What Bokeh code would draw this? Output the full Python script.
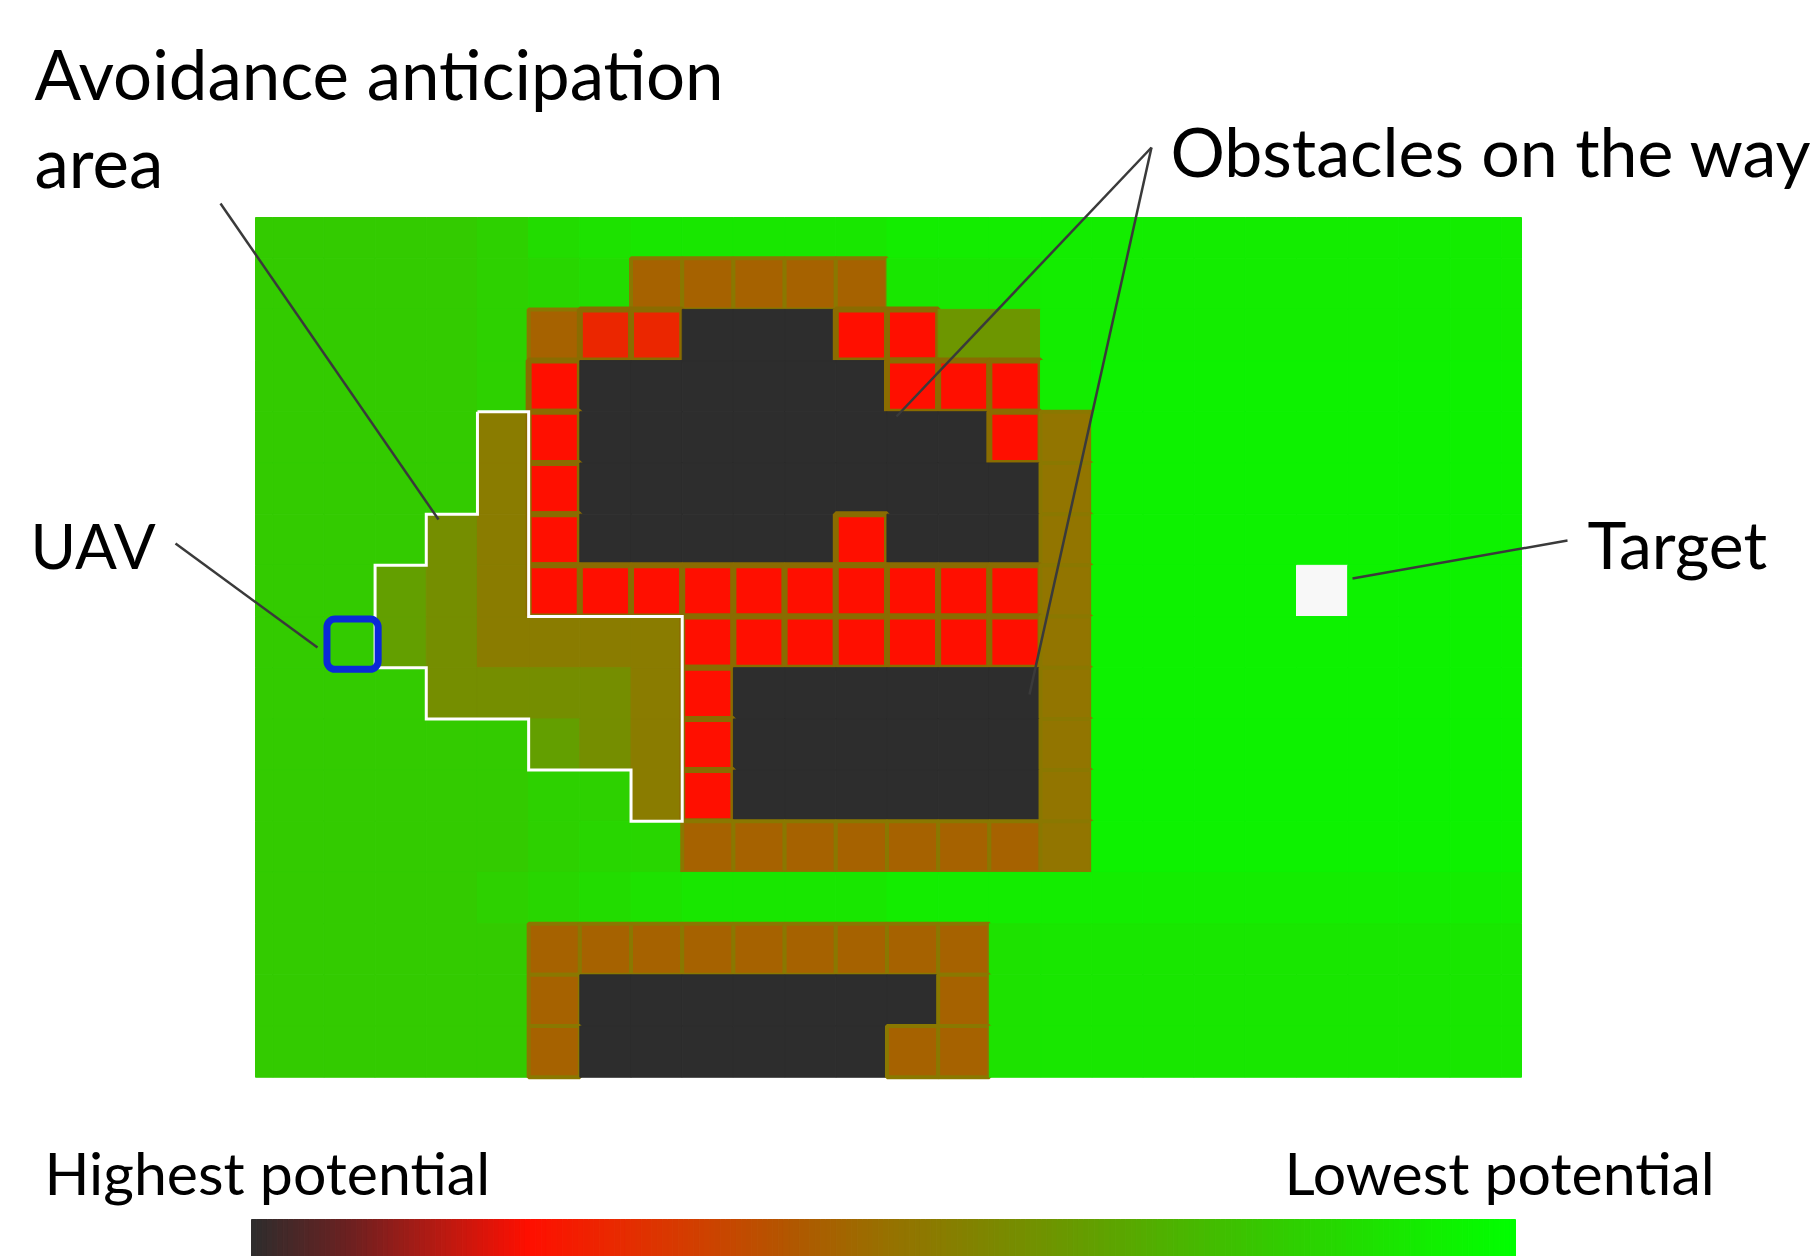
import numpy as np
from bokeh.plotting import figure
from bokeh.models import Range1d, ColumnDataSource
from bokeh.embed import file_html
from bokeh.resources import INLINE
from bokeh.core.properties import value

# ---------------- data ----------------
# potential map, one string per grid row (rows -1..15), one char per column (cols -1..24)
FIRST_ROW = -1
FIRST_COL = -1
GRID = [
    "11111245666667777777777777",  # row -1 (partly visible)
    "11111234BBBBB6667777777777",  # row 0
    "111112BQQKKKRRHH7777777777",  # row 1
    "111112RKKKKKKRRR7888888888",  # row 2
    "11111ORKKKKKKKKRN888888888",  # row 3
    "11111ORKKKKKKKKKN888888888",  # row 4
    "1111PORKKKKKRKKKN888888888",  # row 5
    "111GPORRRRRRRRRRN8888T8888",  # row 6
    "111GPOOOORRRRRRRN888888888",  # row 7
    "1111PPPPORKKKKKKN888888888",  # row 8
    "111111GPORKKKKKKN888888888",  # row 9
    "11111122ORKKKKKKN888888888",  # row 10
    "111111233BBBBBBBN888888888",  # row 11
    "11111234566667777777777777",  # row 12
    "111111BBBBBBBBB56666666666",  # row 13
    "111111BKKKKKKKB56666666666",  # row 14
    "111111BKKKKKKBB56666666666",  # row 15
]
# normalised potential of each cell code (0 = highest potential, 1 = lowest)
LEVELS = {"K": 0.0, "R": 0.22, "Q": 0.28, "B": 0.46, "N": 0.52, "O": 0.545,
          "P": 0.61, "H": 0.635, "G": 0.665,
          "1": 0.81, "2": 0.83, "3": 0.85, "4": 0.87, "5": 0.89, "6": 0.91,
          "7": 0.93, "8": 0.95}
TARGET_CODE = "T"
UAV_CELL = (1, 7)          # column, row
# avoidance anticipation area outline (cell edges)
AREA_EDGE_X = [4, 5, 5, 8, 8, 7, 7, 5, 5, 3, 3, 2, 2, 3, 3, 4, 4]
AREA_EDGE_Y = [3, 3, 7, 7, 11, 11, 10, 10, 9, 9, 8, 8, 6, 6, 5, 5, 3]
# colour scale stops (dark = highest potential -> green = lowest)
SCALE_T = [0.0, 0.08, 0.15, 0.22, 0.29, 0.355, 0.43, 0.50, 0.575, 0.65, 0.72, 0.80, 0.87, 0.94, 1.0]
SCALE_C = ["#2d2d2d", "#6e2020", "#b81a12", "#ff0f00", "#e82a00", "#d04000", "#b05800",
           "#987000", "#808400", "#689a00", "#50b000", "#36c800", "#22dc00", "#10f000", "#00ff00"]

LABELS = ["Avoidance anticipation", "area", "Obstacles on the way", "UAV", "Target"]
SCALE_LABELS = ["Highest potential", "Lowest potential"]

# ---------------- layout (reference pixel geometry) ----------------
CELL_PX = 51.19
X0_PX, Y0_PX = 272.2, 257.7     # pixel position of cell edge (0, 0)
W, H = 1816, 1256
OFF = 0


def px_x(px):
    return (px - X0_PX) / CELL_PX


def px_y(py):
    return (py - Y0_PX) / CELL_PX


MAP_LEFT, MAP_RIGHT = px_x(255), px_x(1521)
MAP_TOP, MAP_BOTTOM = px_y(217), 16.0


def hex2rgb(h):
    return [int(h[i:i + 2], 16) for i in (1, 3, 5)]


_rgb = np.array([hex2rgb(c) for c in SCALE_C], dtype=float)


def ramp(t):
    r = np.interp(t, SCALE_T, _rgb[:, 0])
    g = np.interp(t, SCALE_T, _rgb[:, 1])
    b = np.interp(t, SCALE_T, _rgb[:, 2])
    return "#%02x%02x%02x" % (int(round(r)), int(round(g)), int(round(b)))


p = figure(width=W, height=H, output_backend="svg", toolbar_location=None,
           x_range=Range1d(px_x(OFF), px_x(OFF + W)),
           y_range=Range1d(px_y(OFF + H), px_y(OFF)),
           x_axis_location=None, y_axis_location=None, min_border=0)
p.grid.visible = False
p.outline_line_color = None
p.background_fill_color = "white"
p.border_fill_color = "white"

# ---------------- cells ----------------
L, R, T, B, FC, LC, LW = [], [], [], [], [], [], []
for i, row in enumerate(GRID):
    assert len(row) == 26, (i, len(row))
    r = FIRST_ROW + i
    for j, code in enumerate(row):
        c = FIRST_COL + j
        L.append(max(c, MAP_LEFT)); R.append(min(c + 1, MAP_RIGHT))
        T.append(max(r, MAP_TOP)); B.append(min(r + 1, MAP_BOTTOM))
        fc = "#f8f8f8" if code == TARGET_CODE else ramp(LEVELS[code])
        FC.append(fc)
        if code in "RQ":
            LC.append("#8a6c00"); LW.append(6)
        elif code in "BN":
            LC.append("#8a7800"); LW.append(4)
        else:
            LC.append(fc); LW.append(1)

src = ColumnDataSource(dict(left=L, right=R, top=T, bottom=B, fc=FC, lc=LC, lw=LW))
p.quad(left="left", right="right", top="top", bottom="bottom", source=src,
       fill_color="fc", line_color="lc", line_width="lw")

# avoidance anticipation outline
p.line(AREA_EDGE_X, AREA_EDGE_Y, line_color="white", line_width=3, line_join="miter")

# UAV marker
p.rect(x=[UAV_CELL[0] + 0.56], y=[UAV_CELL[1] + 0.54], width=1.0, height=0.98,
       fill_alpha=0, line_color="#0a2ad8", line_width=7, border_radius=8)

# ---------------- leader lines ----------------
LEADERS = [(175, 543, 317, 647), (220, 203, 438, 519), (1151, 147, 896, 416),
           (1151, 147, 1029, 694), (1567, 540, 1352, 578)]
p.segment(x0=[px_x(a[0]) for a in LEADERS], y0=[px_y(a[1]) for a in LEADERS],
          x1=[px_x(a[2]) for a in LEADERS], y1=[px_y(a[3]) for a in LEADERS],
          line_color="#3a3a3a", line_width=2.5)


def label(txt, x, baseline, size):
    # renderer places the alphabetic baseline ~0.375 em lower than requested
    p.text(x=[px_x(x)], y=[px_y(baseline - 0.375 * size)], text=[txt], text_font=value("Lato"),
           text_font_size=f"{size}px", text_baseline="alphabetic", text_align="left",
           text_color="black")


# ---------------- labels ----------------
lab_pos = [(34, 99, 69), (34, 187, 69), (1170, 175, 68), (30, 568, 62), (1587, 568, 66)]
for txt, (x, y, fs) in zip(LABELS, lab_pos):
    label(txt, x, y, fs)

# ---------------- colour scale ----------------
N = 240
edges = np.linspace(px_x(251), px_x(1515), N + 1)
tt = (np.arange(N) + 0.5) / N
cols = [ramp(t) for t in tt]
p.quad(left=edges[:-1], right=edges[1:], top=px_y(1219), bottom=px_y(1270),
       fill_color=cols, line_color=cols, line_width=1)

for txt, x in zip(SCALE_LABELS, (44, 1284)):
    label(txt, x, 1194, 59)

open("out.html", "w").write(file_html(p, INLINE))
